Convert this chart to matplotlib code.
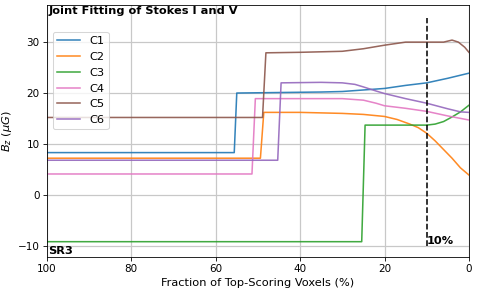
import matplotlib
matplotlib.use('Agg')
import matplotlib.pyplot as plt
import numpy as np

labels = ['C1', 'C2', 'C3', 'C4', 'C5', 'C6']
colors = ['tab:blue', 'tab:orange', 'tab:green', 'tab:pink', 'tab:brown', 'tab:purple']

c1_x = [100, 55.6, 55.0, 45, 35, 30, 25, 20, 15, 10, 5, 0]
c1_y = [8.3, 8.3, 20.0, 20.1, 20.2, 20.3, 20.6, 20.9, 21.5, 22.0, 22.9, 23.9]

c2_x = [100, 49.4, 48.6, 40, 30, 25, 20, 17, 14, 12, 10, 8, 6, 4, 2, 0]
c2_y = [7.2, 7.2, 16.2, 16.2, 16.0, 15.8, 15.4, 14.8, 13.9, 13.2, 12.1, 10.6, 8.9, 7.2, 5.3, 3.9]

c3_x = [100, 25.4, 24.6, 15, 12, 10, 8, 6, 4, 2, 0]
c3_y = [-9.2, -9.2, 13.7, 13.7, 13.7, 13.7, 13.9, 14.4, 15.3, 16.3, 17.6]

c4_x = [100, 51.4, 50.6, 40, 30, 25, 22, 20, 15, 10, 5, 0]
c4_y = [4.1, 4.1, 18.9, 18.9, 18.9, 18.6, 18.0, 17.5, 17.0, 16.4, 15.5, 14.7]

c5_x = [100, 48.9, 48.1, 40, 30, 25, 20, 15, 10, 6, 4, 2.5, 1, 0]
c5_y = [15.2, 15.2, 27.9, 28.0, 28.2, 28.7, 29.4, 30.0, 30.0, 30.0, 30.4, 30.0, 29.0, 28.0]

c6_x = [100, 45.3, 44.5, 35, 30, 27, 25, 22, 20, 15, 10, 5, 2, 0]
c6_y = [6.8, 6.8, 22.0, 22.1, 22.0, 21.7, 21.2, 20.4, 19.9, 18.9, 18.0, 16.9, 16.3, 16.2]

xs = [c1_x, c2_x, c3_x, c4_x, c5_x, c6_x]
ys = [c1_y, c2_y, c3_y, c4_y, c5_y, c6_y]

cut = 10

# drawn at a 6.4 in wide size, scaled down to 478 px
dpi = 478 / 6.4
fig = plt.figure(figsize=(6.4, 292 / dpi), dpi=dpi)
ax = fig.add_axes([0.098, 0.12, 0.883, 0.863])

for i in range(len(labels)):
    ax.plot(xs[i], ys[i], color=colors[i], lw=1.5, alpha=0.9, label=labels[i])

ax.plot([cut, cut], [-10, 34.8], 'k--', lw=1.5)
ax.text(cut, -10, '10%', fontsize=11, fontweight='bold', va='bottom', ha='left')

ax.set_xlim(100, 0)
ax.set_ylim(-12.2, 37.3)
ax.set_xticks([100, 80, 60, 40, 20, 0])
ax.set_yticks([-10, 0, 10, 20, 30])
ax.tick_params(labelsize=10)
ax.grid(color='#c8c8c8', lw=1.2)
ax.set_xlabel('Fraction of Top-Scoring Voxels (%)', fontsize=11)
ax.set_ylabel(r'$B_z\ (\mu G)$', fontsize=11)

ax.text(0.005, 0.997, 'Joint Fitting of Stokes I and V', transform=ax.transAxes,
        fontsize=11, fontweight='bold', va='top', ha='left')
ax.text(0.003, 0.003, 'SR3', transform=ax.transAxes,
        fontsize=11, fontweight='bold', va='bottom', ha='left')

ax.legend(loc='upper left', bbox_to_anchor=(0.0, 0.916), fontsize=11)

plt.savefig('out.png', dpi=dpi)
